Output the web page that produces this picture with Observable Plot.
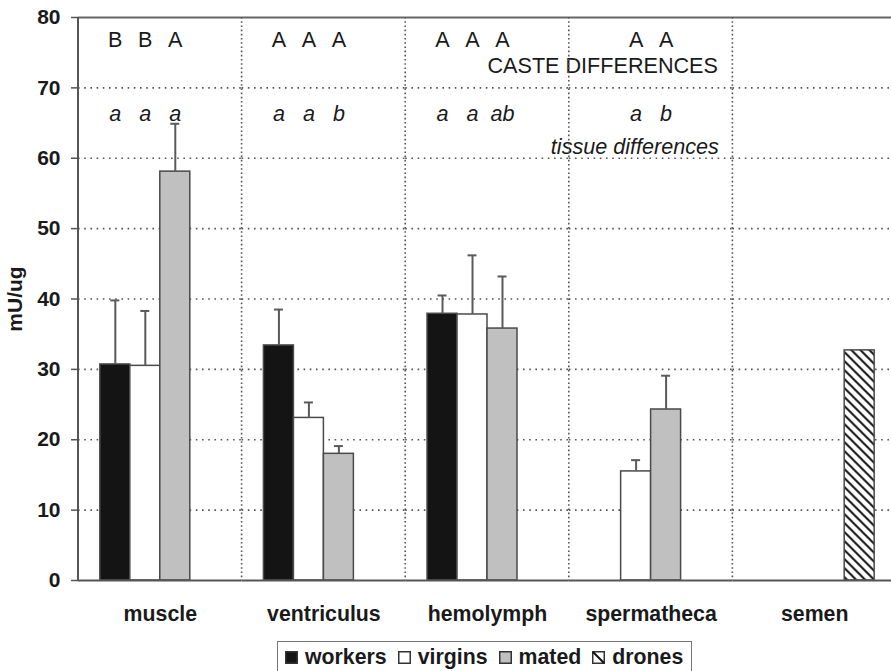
<!DOCTYPE html>
<html>
<head>
<meta charset="utf-8">
<script src="https://cdn.jsdelivr.net/npm/d3@7"></script>
<script src="https://cdn.jsdelivr.net/npm/@observablehq/plot@0.6"></script>
<style>
  html, body { margin: 0; padding: 0; background: #fff; }
  #wrap { position: relative; width: 891px; height: 671px; overflow: hidden; font-family: "Liberation Sans", Arial, sans-serif; }
  #legend { position: absolute; left: 277px; top: 641px; width: 415px; height: 40px; box-sizing: border-box;
    border: 1.5px solid #777; padding: 4.5px 0 0 7px; display: flex; align-items: flex-start;
    font-weight: bold; font-size: 21.3px; line-height: 21px; color: #1a1a1a; }
  #legend .item { display: flex; align-items: center; margin-right: 11px; height: 21px; }
  #legend svg { margin-right: 7px; }
</style>
</head>
<body>
<div id="wrap"></div>
<script>
// ---- data ----
const tissues = ["muscle", "ventriculus", "hemolymph", "spermatheca", "semen"];
const castes = ["workers", "virgins", "mated", "drones"];

const barTissue = ["muscle", "muscle", "muscle", "ventriculus", "ventriculus", "ventriculus",
  "hemolymph", "hemolymph", "hemolymph", "spermatheca", "spermatheca", "semen"];
const barCaste = ["workers", "virgins", "mated", "workers", "virgins", "mated",
  "workers", "virgins", "mated", "virgins", "mated", "drones"];
const barMean = [30.7, 30.5, 58.1, 33.4, 23.1, 18.0, 37.9, 37.8, 35.8, 15.5, 24.3, 32.7];
const barErrTop = [39.8, 38.3, 64.9, 38.5, 25.3, 19.1, 40.5, 46.2, 43.2, 17.1, 29.1, null];

const casteLetters = ["B", "B", "A", "A", "A", "A", "A", "A", "A", "A", "A", null];
const tissueLetters = ["a", "a", "a", "a", "a", "b", "a", "a", "ab", "a", "b", null];

const yTicks = [0, 10, 20, 30, 40, 50, 60, 70, 80];
const gridValues = [10, 20, 30, 40, 50, 60, 70];
const casteNote = "CASTE DIFFERENCES";
const tissueNote = "tissue differences";
const yLabel = "mU/ug";

const casteFill = {workers: "#141414", virgins: "#ffffff", mated: "#c0c0c0", drones: "url(#hatch)"};

const bars = barMean.map((v, i) => ({
  tissue: barTissue[i], caste: barCaste[i], mean: v, err: barErrTop[i],
  upper: casteLetters[i], lower: tissueLetters[i]
}));
const errBars = bars.filter(d => d.err != null);
const letterBars = bars.filter(d => d.upper != null);

const font = "'Liberation Sans', Arial, sans-serif";
const noteSize = 21.6;

const chart = Plot.plot({
  width: 891,
  height: 636,
  marginLeft: 78,
  marginRight: -5,
  marginTop: 17,
  marginBottom: 56,
  style: {fontFamily: font, background: "#fff", color: "#1a1a1a", overflow: "hidden"},
  fx: {domain: tissues, padding: 0, label: null, round: false},
  x: {domain: castes, type: "band", paddingInner: 0, paddingOuter: 0.728, round: false, axis: null},
  y: {domain: [0, 80], label: null},
  color: {type: "identity"},
  marks: [
    Plot.ruleY(gridValues, {stroke: "#555", strokeWidth: 1.6, strokeDasharray: "1.6,4.6"}),
    Plot.ruleY([80], {stroke: "#666", strokeWidth: 2}),
    Plot.barY(bars, {fx: "tissue", x: "caste", y: "mean", fill: d => casteFill[d.caste],
      stroke: "#4a4a4a", strokeWidth: 1.5}),
    Plot.ruleX(errBars, {fx: "tissue", x: "caste", y1: "mean", y2: "err", stroke: "#5a5a5a", strokeWidth: 2}),
    Plot.tickY(errBars, {fx: "tissue", x: "caste", y: "err", stroke: "#5a5a5a", strokeWidth: 2,
      insetLeft: 10.5, insetRight: 10.5}),
    Plot.ruleY([0], {stroke: "#555", strokeWidth: 2}),
    Plot.text(letterBars, {fx: "tissue", x: "caste", y: () => 75.85, text: "upper",
      lineAnchor: "bottom", fontSize: noteSize, fill: "#1a1a1a"}),
    Plot.text(letterBars, {fx: "tissue", x: "caste", y: () => 65.3, text: "lower",
      lineAnchor: "bottom", fontSize: noteSize, fontStyle: "italic", fill: "#1a1a1a"}),
    Plot.text([casteNote], {fx: () => "spermatheca", y: () => 72.05, text: d => d,
      frameAnchor: "right", textAnchor: "end", dx: -15, lineAnchor: "bottom", fontSize: noteSize, fill: "#1a1a1a"}),
    Plot.text([tissueNote], {fx: () => "spermatheca", y: () => 60.65, text: d => d,
      frameAnchor: "right", textAnchor: "end", dx: -14, lineAnchor: "bottom", fontSize: noteSize,
      fontStyle: "italic", fill: "#1a1a1a"}),
    Plot.axisY({ticks: yTicks, tickSize: 7, tickPadding: 11, fontSize: 21, fontWeight: "bold",
      stroke: "#555", strokeWidth: 1.5, label: yLabel, labelAnchor: "center", labelOffset: 71, labelArrow: "none"}),
    Plot.axisFx({anchor: "bottom", tickSize: 0, tickPadding: 25, fontSize: 21.3, fontWeight: "bold", label: null})
  ]
});

// hatch pattern + vertical separators drawn from the plot's own scales
const svg = d3.select(chart.tagName.toLowerCase() === "svg" ? chart : chart.querySelector("svg"));
const defs = svg.insert("defs", ":first-child");
const pat = defs.append("pattern").attr("id", "hatch").attr("patternUnits", "userSpaceOnUse")
  .attr("width", 9).attr("height", 9);
pat.append("rect").attr("width", 9).attr("height", 9).attr("fill", "#fff");
pat.append("path").attr("d", "M-1,-1 L10,10 M-1,8 L1,10 M8,-1 L10,1")
  .attr("stroke", "#141414").attr("stroke-width", 2);

const fxs = chart.scale("fx");
const ys = chart.scale("y");
const g = svg.append("g");
tissues.slice(1).forEach(t => {
  const xp = fxs.apply(t);
  g.append("line").attr("x1", xp).attr("x2", xp).attr("y1", ys.apply(80)).attr("y2", ys.apply(0))
    .attr("stroke", "#555").attr("stroke-width", 1.6).attr("stroke-dasharray", "1.6,2.6");
});
const x0 = fxs.apply(tissues[0]);
g.append("line").attr("x1", x0).attr("x2", x0).attr("y1", ys.apply(80)).attr("y2", ys.apply(0))
  .attr("stroke", "#555").attr("stroke-width", 2);

const wrap = document.getElementById("wrap");
wrap.appendChild(chart);

// legend
const legend = document.createElement("div");
legend.id = "legend";
castes.forEach(c => {
  const item = document.createElement("div");
  item.className = "item";
  const sw = c === "drones"
    ? `<svg width="13" height="13"><rect x="0.75" y="0.75" width="11.5" height="11.5" fill="#fff" stroke="#333" stroke-width="1.5"/><path d="M1,1 L12,12" stroke="#111" stroke-width="2"/></svg>`
    : `<svg width="13" height="13"><rect x="0.75" y="0.75" width="11.5" height="11.5" fill="${casteFill[c]}" stroke="#333" stroke-width="1.5"/></svg>`;
  item.innerHTML = sw + `<span>${c}</span>`;
  legend.appendChild(item);
});
wrap.appendChild(legend);
</script>
</body>
</html>
